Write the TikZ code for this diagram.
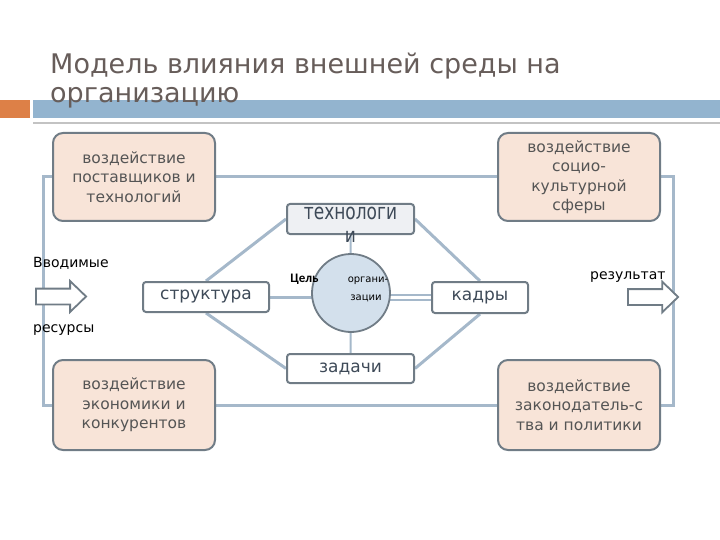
\documentclass[tikz,border=0pt]{standalone}
\usepackage{fontspec}
\setmainfont{DejaVu Sans}
\newfontfamily\carl{Carlito}
\usetikzlibrary{shapes.arrows,backgrounds}
\definecolor{titlec}{RGB}{103,93,90}
\definecolor{orangebar}{RGB}{221,128,71}
\definecolor{bluebar}{RGB}{147,180,207}
\definecolor{thinline}{RGB}{195,195,195}
\definecolor{boxborder}{RGB}{112,124,134}
\definecolor{peach}{RGB}{248,228,216}
\definecolor{connc}{RGB}{165,184,202}
\definecolor{circfill}{RGB}{211,224,236}
\definecolor{techfill}{RGB}{238,240,243}
\definecolor{innertext}{RGB}{62,74,88}
\definecolor{boxtext}{RGB}{85,85,85}
\tikzset{
  outerbox/.style={draw=boxborder, line width=2pt, fill=peach, rounded corners=10pt,
    minimum width=162pt, align=center, text=boxtext, inner sep=0pt,
    font=\fontsize{15.5}{19.5}\selectfont},
  innerbox/.style={draw=boxborder, line width=2pt, fill=white, rounded corners=3pt,
    minimum height=30pt, inner sep=0pt, text=innertext, font=\fontsize{17}{20}\selectfont},
  conn/.style={draw=connc, line width=3pt},
  blockarrow/.style={single arrow, draw=boxborder, line width=1.8pt, fill=white,
    minimum height=50pt, inner xsep=0pt, inner ysep=7pt, single arrow head extend=7.5pt,
    single arrow tip angle=88},
  sidelabel/.style={anchor=base west, inner sep=0pt, font=\fontsize{14}{16}\selectfont, text=black}
}
\begin{document}
\begin{tikzpicture}[x=1pt,y=-1pt]
\useasboundingbox (0,0) rectangle (720,540);
% title bars
\fill[orangebar] (0,100) rectangle (30,118);
\fill[bluebar] (33,100) rectangle (720,118);
\fill[thinline] (33,122) rectangle (720,124);
\node[anchor=base west, inner sep=0pt, text=titlec, font=\fontsize{27}{30}\selectfont] (t1) at (50,74) {Модель влияния внешней среды на};
\node[anchor=base west, inner sep=0pt, text=titlec, font=\fontsize{27}{30}\selectfont] (t2) at (50,103) {организацию};

% block arrows (under lines)
\node[blockarrow] (ain) at (57,296.5) {};
\node[blockarrow] (aout) at (649,297) {};

% outer boxes
\node[outerbox, minimum height=88pt] (tl) at (134,177) {воздействие\\поставщиков и\\технологий};
\node[outerbox, minimum height=88pt] (tr) at (579,177) {воздействие\\социо-\\культурной\\сферы};
\node[outerbox, minimum height=90pt] (bl) at (134,405) {воздействие\\экономики и\\конкурентов};
\node[outerbox, minimum height=90pt] (br) at (579,405) {воздействие\\законодатель-с\\тва и политики};

% inner nodes
\node[innerbox, minimum width=127pt, fill=techfill] (tech) at (350.5,219) {};
\node[innerbox, minimum width=126pt] (struct) at (206,297) {структура};
\node[innerbox, minimum width=96pt, minimum height=31pt] (kadry) at (480,297.5) {кадры};
\node[innerbox, minimum width=127pt, minimum height=29pt] (zad) at (350.5,368.5) {задачи};
\node[circle, draw=boxborder, line width=1.8pt, fill=circfill, minimum size=78pt, inner sep=0pt] (circ) at (351,293) {};

% connectors
\begin{pgfonlayer}{background}
\draw[conn] (tl.west) -- ++(-9,0) |- (bl.west);
\draw[conn] (tl.east) -- (tr.west);
\draw[conn] (tr.east) -- ++(12,0) |- (br.east);
\draw[conn] (bl.east) -- (br.west);
\draw[conn] (struct.north) -- (tech.west);
\draw[conn] (struct.south) -- (zad.west);
\draw[conn] (tech.east) -- (kadry.north);
\draw[conn] (kadry.south) -- (zad.east);
\draw[conn, line width=2pt] (circ) -- (tech);
\draw[conn, line width=2pt] (circ) -- (zad);
\draw[conn] (struct.east) -- (struct.east -| circ.center);
\draw[connc, line width=1.5pt] ([yshift=-2.5pt]kadry.west) -- ([yshift=-2.5pt]kadry.west -| circ.center);
\draw[connc, line width=1.5pt] ([yshift=2.5pt]kadry.west) -- ([yshift=2.5pt]kadry.west -| circ.center);
\end{pgfonlayer}

% overflowing text of технологи box (top clipped at the box edge)
\begin{scope}
\clip (280,206) rectangle (420,250);
\node[anchor=base, inner sep=0pt, text=innertext, font=\fontsize{17}{20}\selectfont] (techtxt) at (350.5,220) {\scalebox{1}[1.3]{технологи}};
\node[anchor=base, inner sep=0pt, text=innertext, font=\fontsize{17}{20}\selectfont] (techtxt2) at (350.5,243) {\scalebox{1}[1.2]{и}};
\end{scope}

% circle texts
\node[anchor=base, inner sep=0pt, font=\carl\bfseries\fontsize{13}{15}\selectfont] (goal) at (304.5,282) {Цель};
\node[anchor=base, inner sep=0pt, font=\fontsize{10}{12}\selectfont] (org1) at (368,282) {органи-};
\node[anchor=base, inner sep=0pt, font=\fontsize{10}{12}\selectfont] (org2) at (366,300) {зации};

% side labels
\node[sidelabel] (in1) at (33,267) {Вводимые};
\node[sidelabel] (in2) at (33,332) {ресурсы};
\node[sidelabel] (out1) at (590,279) {результат};
\end{tikzpicture}
\end{document}
